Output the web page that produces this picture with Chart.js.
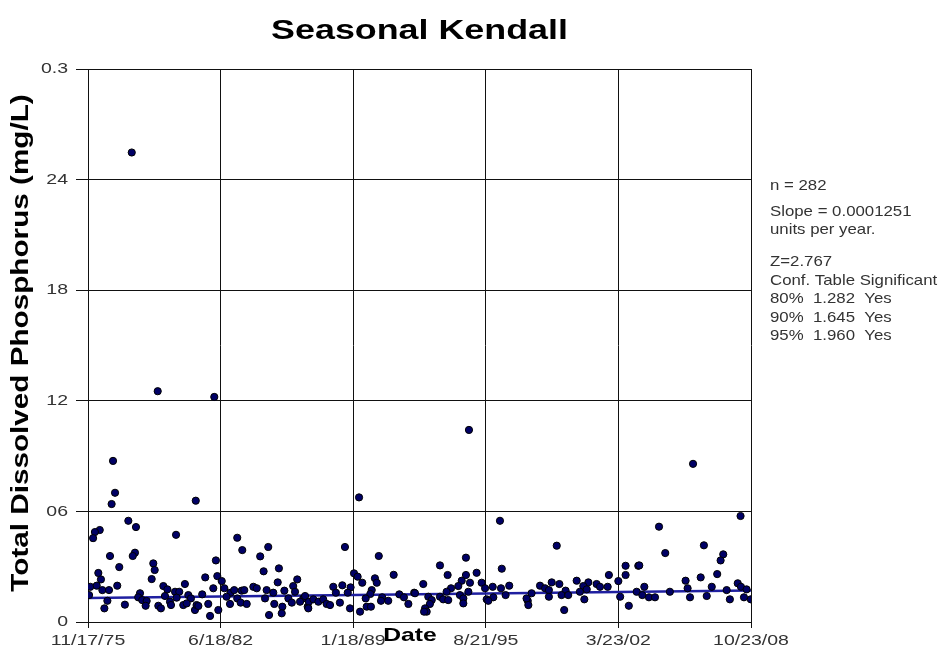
<!DOCTYPE html>
<html>
<head>
<meta charset="utf-8">
<script src="https://cdn.jsdelivr.net/npm/chart.js@4/dist/chart.umd.min.js"></script>
<style>
  html, body { margin: 0; padding: 0; background: #fff; }
  #wrap { width: 945px; height: 660px; position: relative; }
</style>
</head>
<body>
<div id="wrap"><canvas id="kendallChart" width="945" height="660"></canvas></div>
<script>
// ==========================================
// 1. DATA
// ==========================================
// sample dates as decimal years, TDP in mg/L
const sampleYears = [
  1978.05, 1979.34, 1982.15, 1977.12, 1994.80, 1989.34, 1996.34, 2005.93, 2008.29,
  1977.22, 1977.05, 1981.23, 1977.88, 1978.26, 1976.46, 1976.22, 1976.13, 1980.25, 1976.97,
  1978.21, 1978.10, 1977.43, 1979.12, 1979.19, 1976.39, 1976.52, 1979.04, 1975.99, 1976.31,
  1976.59, 1976.92, 1977.33, 1975.93, 1976.84, 1976.69, 1977.71, 1978.46, 1978.37, 1978.57,
  1978.79, 1978.74, 1979.37, 1979.50, 1979.62, 1979.82, 1979.70, 1979.95, 1980.00, 1980.20,
  1980.41, 1980.28, 1980.69, 1980.61, 1980.86, 1980.99, 1980.78, 1981.19, 1981.27,
  1981.94, 1983.29, 1983.54, 1984.83, 1984.43, 1982.23, 1984.60, 1985.36, 1981.70, 1982.30,
  1982.52, 1985.30, 1986.27, 1982.10, 1982.65, 1984.09, 1984.26, 1986.07, 1981.55, 1982.96,
  1983.14, 1983.51, 1983.64, 1984.75, 1985.08, 1985.63, 1986.16, 1982.76, 1983.29, 1984.67,
  1985.83, 1986.57, 1981.36, 1981.85, 1982.35, 1982.93, 1983.46, 1983.76, 1985.13, 1985.53,
  1984.87, 1985.50, 1986.00, 1986.41, 1986.79,
  1988.64, 1990.32, 1991.06, 1989.09, 1989.27, 1989.50, 1990.13, 1990.22, 1988.06, 1988.51,
  1988.92, 1988.19, 1988.78, 1989.97, 1989.90, 1990.49, 1990.79, 1991.34, 1991.57, 1992.08,
  1991.79, 1986.66, 1986.85, 1986.82, 1987.07, 1987.32, 1987.56, 1987.73, 1987.90, 1988.39,
  1988.89, 1989.39, 1989.72, 1989.93, 1989.67, 1990.43,
  1994.65, 1993.36, 1996.43, 1993.74, 1994.65, 1995.18, 1992.53, 1994.44, 1994.85, 1995.43,
  1994.27, 1993.91, 1993.69, 1995.98, 1996.80, 1995.60, 1996.39, 1992.12, 1992.78, 1993.36,
  1994.35, 1994.77, 1996.62, 1992.95, 1993.52, 1993.77, 1994.52, 1995.68, 1996.01, 1992.86,
  1994.52, 1995.76, 1992.62, 1992.70, 1992.57, 1997.72, 1997.66,
  1999.16, 2002.58, 2002.58, 2003.21, 2001.75, 2002.22, 2000.15, 2000.73, 2001.14, 2001.69,
  1998.33, 1998.91, 1999.29, 2000.48, 1998.58, 1998.77, 1997.91, 1999.60, 2000.31, 2000.65,
  2001.31, 1998.77, 1999.40, 1999.73, 2000.53, 2002.31, 1997.75, 1999.53, 2002.74,
  2004.24, 2006.47, 2004.55, 2007.43, 2007.30, 2003.26, 2007.13, 2006.31, 2005.56, 2003.51,
  2005.66, 2006.86, 2008.15, 2008.31, 2008.59, 2007.60, 2004.78, 2003.13, 2003.41, 2003.74,
  2004.04, 2006.61, 2005.78, 2007.76, 2008.46, 2008.80
];
const tdpValues = [
  0.2547, 0.1252, 0.1221, 0.0874, 0.1042, 0.0676, 0.0549, 0.0858, 0.0575,
  0.0701, 0.0640, 0.0658, 0.0549, 0.0515, 0.0499, 0.0488, 0.0455, 0.0473, 0.0358,
  0.0376, 0.0358, 0.0298, 0.0318, 0.0282, 0.0266, 0.0231, 0.0233, 0.0191, 0.0197,
  0.0173, 0.0173, 0.0197, 0.0146, 0.0115, 0.0074, 0.0094, 0.0156, 0.0134, 0.0119,
  0.0114, 0.0088, 0.0088, 0.0074, 0.0195, 0.0177, 0.0141, 0.0110, 0.0092, 0.0164,
  0.0164, 0.0132, 0.0206, 0.0092, 0.0146, 0.0128, 0.0101, 0.0065, 0.0092,
  0.0033, 0.0457, 0.0390, 0.0407, 0.0356, 0.0334, 0.0275, 0.0291, 0.0242, 0.0249,
  0.0222, 0.0215, 0.0231, 0.0183, 0.0183, 0.0191, 0.0183, 0.0195, 0.0150, 0.0159,
  0.0173, 0.0170, 0.0173, 0.0173, 0.0159, 0.0170, 0.0164, 0.0137, 0.0128, 0.0128,
  0.0128, 0.0128, 0.0087, 0.0098, 0.0065, 0.0098, 0.0105, 0.0098, 0.0098, 0.0083,
  0.0038, 0.0047, 0.0105, 0.0110, 0.0083,
  0.0407, 0.0358, 0.0256, 0.0264, 0.0246, 0.0213, 0.0237, 0.0213, 0.0191, 0.0199,
  0.0188, 0.0159, 0.0159, 0.0173, 0.0152, 0.0134, 0.0115, 0.0150, 0.0134, 0.0159,
  0.0098, 0.0141, 0.0110, 0.0074, 0.0123, 0.0110, 0.0123, 0.0098, 0.0092, 0.0105,
  0.0074, 0.0056, 0.0083, 0.0083, 0.0128, 0.0115,
  0.0349, 0.0307, 0.0289, 0.0255, 0.0255, 0.0267, 0.0206, 0.0224, 0.0213, 0.0213,
  0.0195, 0.0183, 0.0164, 0.0191, 0.0197, 0.0183, 0.0183, 0.0156, 0.0137, 0.0137,
  0.0146, 0.0164, 0.0146, 0.0119, 0.0123, 0.0119, 0.0128, 0.0123, 0.0134, 0.0098,
  0.0101, 0.0115, 0.0074, 0.0056, 0.0056, 0.0115, 0.0128,
  0.0414, 0.0305, 0.0255, 0.0305, 0.0255, 0.0222, 0.0224, 0.0215, 0.0206, 0.0191,
  0.0197, 0.0215, 0.0206, 0.0195, 0.0183, 0.0173, 0.0156, 0.0170, 0.0164, 0.0177,
  0.0191, 0.0137, 0.0146, 0.0146, 0.0123, 0.0137, 0.0092, 0.0065, 0.0088,
  0.0517, 0.0416, 0.0374, 0.0367, 0.0334, 0.0307, 0.0260, 0.0242, 0.0224, 0.0191,
  0.0183, 0.0191, 0.0210, 0.0191, 0.0177, 0.0173, 0.0164, 0.0164, 0.0146, 0.0134,
  0.0134, 0.0141, 0.0134, 0.0123, 0.0134, 0.0123
];

// Seasonal Kendall trend line end points
const trendYears = [1975.877, 2008.809];
const trendValues = [0.0130, 0.0171];

// axis ticks (dates as decimal years) and their labels
const xTickValues = [1975.877, 1982.462, 1989.047, 1995.636, 2002.222, 2008.809];
const xTickLabels = ['11/17/75', '6/18/82', '1/18/89', '8/21/95', '3/23/02', '10/23/08'];
const yTickValues = [0, 0.06, 0.12, 0.18, 0.24, 0.3];
const yTickLabels = ['0', '06', '12', '18', '24', '0.3'];

const statsLines = [
  'n = 282', 'Slope = 0.0001251', 'units per year.',
  'Z=2.767', 'Conf. Table Significant', '80%  1.282  Yes', '90%  1.645  Yes', '95%  1.960  Yes'
];

const FONT = '"Liberation Sans", Arial, Helvetica, sans-serif';
const STRETCH = 1.3; // the source rendered its text wide

// draws text widened along its reading direction
function wideText(ctx, text, x, y, font, color, align, sx, angle) {
  ctx.save();
  ctx.translate(x, y);
  if (angle) ctx.rotate(angle);
  ctx.scale(sx, 1);
  ctx.font = font;
  ctx.fillStyle = color;
  ctx.textAlign = align;
  ctx.textBaseline = 'middle';
  ctx.fillText(text, 0, 0);
  ctx.restore();
}

// ==========================================
// 2. PLUGIN FOR THE TEXT
// ==========================================
const statsRowY = [186, 212, 230, 262, 281, 299, 318, 336];

const chartText = {
  id: 'chartText',
  afterDraw(chart) {
    const ctx = chart.ctx;
    const area = chart.chartArea;
    const xs = chart.scales.x;
    const ys = chart.scales.y;

    // title
    wideText(ctx, 'Seasonal Kendall', (area.left + area.right) / 2, 31,
      'bold 28px ' + FONT, '#000', 'center', 1.28);

    // y axis title
    wideText(ctx, 'Total Dissolved Phosphorus (mg/L)', 22, 343,
      'bold 23px ' + FONT, '#000', 'center', 1.29, -Math.PI / 2);

    // tick labels
    yTickValues.forEach((v, i) => {
      wideText(ctx, yTickLabels[i], 68, ys.getPixelForValue(v),
        '15px ' + FONT, '#333', 'right', STRETCH);
    });
    xTickValues.forEach((v, i) => {
      wideText(ctx, xTickLabels[i], xs.getPixelForValue(v), 641,
        '15px ' + FONT, '#333', 'center', STRETCH);
    });

    // x axis title sits in the tick label row
    wideText(ctx, 'Date', 410, 636, 'bold 19px ' + FONT, '#000', 'center', 1.3);

    // stats block on the right
    statsLines.forEach((line, i) => {
      wideText(ctx, line, area.right + 19, statsRowY[i], '15px ' + FONT, '#333', 'left', 1.12);
    });
  }
};

// ==========================================
// 3. CHART
// ==========================================
const points = sampleYears.map((yr, i) => ({ x: yr, y: tdpValues[i] }));
const trend = trendYears.map((yr, i) => ({ x: yr, y: trendValues[i] }));

new Chart(document.getElementById('kendallChart'), {
  type: 'scatter',
  data: {
    datasets: [
      {
        label: 'TDP',
        data: points,
        pointRadius: 3.6,
        pointBackgroundColor: '#000066',
        pointBorderColor: '#000',
        pointBorderWidth: 1,
        order: 1
      },
      {
        type: 'line',
        label: 'Trend',
        data: trend,
        borderColor: '#1f1fa0',
        borderWidth: 2.5,
        pointRadius: 0,
        fill: false,
        order: 2
      }
    ]
  },
  options: {
    responsive: false,
    animation: false,
    layout: { padding: { left: 0, right: 194, top: 69, bottom: 0 } },
    plugins: {
      legend: { display: false },
      tooltip: { enabled: false },
      title: { display: false }
    },
    scales: {
      x: {
        type: 'linear',
        min: xTickValues[0],
        max: xTickValues[xTickValues.length - 1],
        afterBuildTicks: (scale) => { scale.ticks = xTickValues.map(v => ({ value: v })); },
        afterFit: (scale) => { scale.height = 38; },
        ticks: { display: false },
        grid: { color: '#111', lineWidth: 1, tickLength: 6 },
        border: { color: '#111' }
      },
      y: {
        min: 0,
        max: 0.3,
        afterBuildTicks: (scale) => { scale.ticks = yTickValues.map(v => ({ value: v })); },
        afterFit: (scale) => { scale.width = 88; },
        ticks: { display: false },
        grid: { color: '#111', lineWidth: 1, tickLength: 12 },
        border: { color: '#111' }
      }
    }
  },
  plugins: [chartText]
});
</script>
</body>
</html>
